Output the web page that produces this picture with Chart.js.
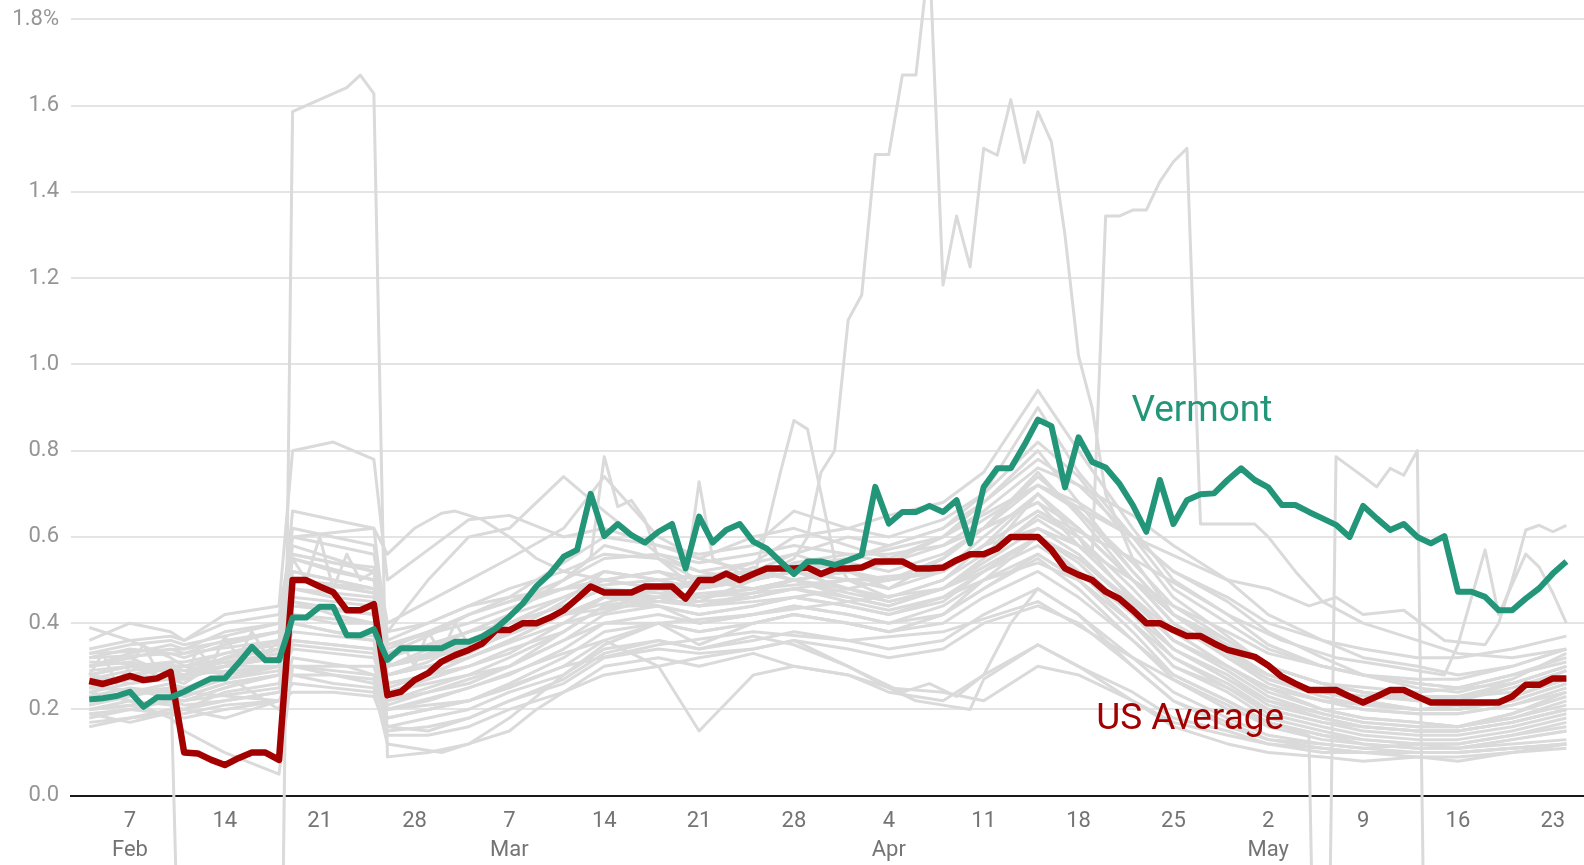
<!DOCTYPE html>
<html>
<head>
<meta charset="utf-8">
<title>Vermont vs US Average</title>
<script src="https://cdn.jsdelivr.net/npm/chart.js@4.4.1/dist/chart.umd.min.js"></script>
<style>
  html, body { margin: 0; padding: 0; background: #fff; }
  #wrap { position: relative; width: 1584px; height: 865px; }
</style>
</head>
<body>
<div id="wrap"><canvas id="chart"></canvas></div>
<script>
// ── day index 0 = 4 Feb, one value per day up to 24 May ──────────────────────
const vermont = [
  0.223, 0.226, 0.231, 0.241, 0.206, 0.228, 0.228, 0.241, 0.257, 0.272,
  0.272, 0.307, 0.345, 0.314, 0.314, 0.413, 0.413, 0.438, 0.438, 0.372,
  0.372, 0.386, 0.315, 0.342, 0.342, 0.342, 0.342, 0.357, 0.357, 0.369,
  0.388, 0.415, 0.446, 0.486, 0.515, 0.554, 0.570, 0.700, 0.602, 0.630,
  0.604, 0.587, 0.612, 0.630, 0.527, 0.647, 0.587, 0.616, 0.630, 0.589,
  0.573, 0.543, 0.514, 0.543, 0.543, 0.535, 0.546, 0.558, 0.716, 0.631,
  0.658, 0.658, 0.672, 0.658, 0.685, 0.585, 0.716, 0.759, 0.759, 0.813,
  0.872, 0.857, 0.715, 0.831, 0.774, 0.761, 0.724, 0.674, 0.612, 0.732,
  0.630, 0.685, 0.699, 0.701, 0.732, 0.759, 0.732, 0.715, 0.674, 0.674,
  0.658, 0.643, 0.628, 0.600, 0.672, 0.643, 0.616, 0.630, 0.600, 0.585,
  0.602, 0.473, 0.473, 0.461, 0.430, 0.430, 0.457, 0.481, 0.515, 0.543
];

const usAverage = [
  0.266, 0.259, 0.268, 0.278, 0.268, 0.272, 0.287, 0.100, 0.098, 0.083,
  0.071, 0.087, 0.100, 0.100, 0.083, 0.500, 0.500, 0.485, 0.472, 0.430,
  0.430, 0.444, 0.233, 0.241, 0.268, 0.284, 0.311, 0.326, 0.338, 0.353,
  0.384, 0.384, 0.400, 0.400, 0.413, 0.430, 0.457, 0.485, 0.471, 0.471,
  0.471, 0.485, 0.485, 0.485, 0.457, 0.500, 0.500, 0.515, 0.500, 0.514,
  0.527, 0.527, 0.527, 0.529, 0.514, 0.527, 0.527, 0.529, 0.543, 0.543,
  0.543, 0.527, 0.527, 0.529, 0.546, 0.560, 0.560, 0.573, 0.600, 0.600,
  0.600, 0.570, 0.527, 0.512, 0.500, 0.473, 0.457, 0.430, 0.400, 0.400,
  0.384, 0.370, 0.370, 0.353, 0.338, 0.330, 0.322, 0.302, 0.276, 0.260,
  0.245, 0.245, 0.245, 0.230, 0.216, 0.230, 0.245, 0.245, 0.230, 0.216,
  0.216, 0.216, 0.216, 0.216, 0.216, 0.230, 0.257, 0.257, 0.272, 0.272
];

// x axis ticks (day index) and their labels
const tickDays = [3, 10, 17, 24, 31, 38, 45, 52, 59, 66, 73, 80, 87, 94, 101, 108];
const tickLabels = [
  ['7', 'Feb'], '14', '21', '28', ['7', 'Mar'], '14', '21', '28',
  ['4', 'Apr'], '11', '18', '25', ['2', 'May'], '9', '16', '23'
];
const yTicks = [0, 0.2, 0.4, 0.6, 0.8, 1.0, 1.2, 1.4, 1.6, 1.8];

// other states, read at these days
const stateDays = [0, 3, 6, 7, 10, 14, 15, 18, 21, 22, 25, 28, 31, 35, 38, 42, 45, 49,
                   52, 56, 59, 63, 66, 70, 73, 77, 80, 84, 87, 91, 94, 98, 101, 105, 109];
const otherStates = [
  [0.36,0.40,0.38,0.36,0.42,0.44,0.80,0.82,0.78,0.50,0.57,0.64,0.65,0.60,0.62,0.58,0.55,0.60,0.62,0.58,0.55,0.60,0.68,0.80,0.68,0.52,0.42,0.36,0.30,0.26,0.24,0.22,0.22,0.26,0.30],
  [0.30,0.33,0.35,0.34,0.38,0.40,0.62,0.60,0.58,0.40,0.45,0.50,0.55,0.62,0.74,0.60,0.55,0.52,0.56,0.60,0.58,0.62,0.70,0.90,0.75,0.60,0.48,0.40,0.34,0.30,0.28,0.26,0.25,0.28,0.32],
  [0.25,0.28,0.30,0.29,0.30,0.33,0.55,0.52,0.50,0.30,0.34,0.38,0.42,0.50,0.58,0.55,0.50,0.54,0.60,0.62,0.65,0.68,0.75,0.94,0.80,0.62,0.50,0.42,0.35,0.30,0.28,0.25,0.24,0.27,0.33],
  [0.39,0.36,0.32,0.30,0.28,0.30,0.45,0.42,0.40,0.28,0.30,0.33,0.38,0.45,0.52,0.50,0.48,0.50,0.52,0.55,0.58,0.62,0.68,0.78,0.72,0.60,0.52,0.45,0.38,0.32,0.28,0.26,0.25,0.28,0.31],
  [0.28,0.30,0.27,0.26,0.32,0.36,0.58,0.55,0.52,0.34,0.38,0.42,0.45,0.48,0.50,0.52,0.50,0.48,0.50,0.46,0.44,0.48,0.55,0.70,0.62,0.50,0.40,0.32,0.26,0.22,0.20,0.19,0.19,0.21,0.24],
  [0.22,0.24,0.26,0.25,0.28,0.30,0.48,0.46,0.45,0.26,0.28,0.32,0.36,0.42,0.46,0.48,0.45,0.46,0.48,0.50,0.48,0.52,0.58,0.66,0.60,0.48,0.38,0.30,0.24,0.20,0.18,0.17,0.16,0.18,0.22],
  [0.20,0.22,0.21,0.20,0.24,0.26,0.40,0.38,0.36,0.22,0.24,0.27,0.30,0.36,0.42,0.44,0.42,0.44,0.46,0.44,0.42,0.45,0.52,0.60,0.55,0.44,0.34,0.27,0.22,0.18,0.16,0.15,0.15,0.17,0.20],
  [0.32,0.34,0.33,0.32,0.35,0.38,0.52,0.50,0.48,0.32,0.35,0.38,0.40,0.44,0.48,0.46,0.44,0.47,0.50,0.52,0.50,0.55,0.62,0.72,0.66,0.52,0.42,0.34,0.28,0.24,0.22,0.20,0.20,0.23,0.27],
  [0.18,0.20,0.22,0.22,0.25,0.28,0.36,0.35,0.34,0.20,0.22,0.25,0.28,0.34,0.40,0.42,0.40,0.42,0.44,0.42,0.40,0.44,0.50,0.56,0.50,0.40,0.30,0.24,0.18,0.15,0.13,0.12,0.12,0.14,0.16],
  [0.26,0.27,0.28,0.28,0.30,0.32,0.44,0.43,0.42,0.30,0.32,0.35,0.38,0.42,0.46,0.45,0.44,0.45,0.46,0.48,0.46,0.50,0.56,0.64,0.58,0.46,0.36,0.29,0.23,0.19,0.17,0.16,0.16,0.19,0.24],
  [0.24,0.22,0.18,0.15,0.10,0.05,0.30,0.28,0.26,0.18,0.20,0.22,0.26,0.32,0.38,0.40,0.38,0.40,0.42,0.40,0.38,0.42,0.48,0.55,0.48,0.36,0.28,0.22,0.17,0.14,0.12,0.11,0.11,0.13,0.15],
  [0.30,0.31,0.29,0.28,0.32,0.34,0.66,0.64,0.62,0.36,0.40,0.44,0.46,0.48,0.52,0.50,0.48,0.50,0.52,0.54,0.52,0.56,0.62,0.74,0.66,0.54,0.44,0.36,0.30,0.26,0.24,0.22,0.22,0.25,0.29],
  [0.23,0.25,0.24,0.23,0.26,0.28,0.34,0.33,0.32,0.24,0.26,0.28,0.30,0.36,0.40,0.40,0.38,0.40,0.42,0.40,0.38,0.40,0.46,0.52,0.46,0.36,0.27,0.21,0.16,0.13,0.12,0.11,0.11,0.12,0.13],
  [0.34,0.36,0.37,0.36,0.40,0.42,0.60,0.58,0.56,0.38,0.40,0.44,0.48,0.52,0.56,0.55,0.52,0.54,0.56,0.52,0.50,0.52,0.58,0.62,0.58,0.50,0.44,0.38,0.33,0.30,0.28,0.27,0.27,0.30,0.34],
  [0.20,0.21,0.22,0.21,0.22,0.24,0.30,0.29,0.28,0.18,0.20,0.22,0.25,0.30,0.36,0.30,0.15,0.28,0.30,0.28,0.24,0.22,0.28,0.35,0.30,0.24,0.18,0.15,0.12,0.10,0.10,0.10,0.10,0.11,0.12],
  [0.27,0.29,0.30,0.30,0.33,0.36,0.50,0.49,0.47,0.28,0.31,0.36,0.40,0.46,0.50,0.48,0.46,0.48,0.50,0.47,0.45,0.48,0.54,0.62,0.56,0.44,0.34,0.27,0.21,0.18,0.16,0.15,0.15,0.17,0.20],
  [0.17,0.18,0.20,0.20,0.22,0.24,0.28,0.28,0.27,0.16,0.18,0.20,0.24,0.28,0.34,0.36,0.34,0.36,0.38,0.36,0.34,0.36,0.42,0.48,0.42,0.32,0.24,0.18,0.14,0.12,0.11,0.10,0.10,0.11,0.12],
  [0.30,0.32,0.34,0.33,0.36,0.38,0.56,0.54,0.52,0.33,0.37,0.42,0.46,0.54,0.60,0.58,0.56,0.58,0.66,0.62,0.60,0.64,0.70,0.82,0.74,0.58,0.46,0.37,0.30,0.26,0.24,0.23,0.23,0.26,0.30],
  [0.21,0.23,0.25,0.24,0.27,0.29,0.38,0.37,0.36,0.21,0.24,0.26,0.30,0.38,0.44,0.46,0.44,0.46,0.48,0.45,0.43,0.46,0.52,0.60,0.54,0.42,0.32,0.25,0.19,0.16,0.14,0.13,0.13,0.15,0.18],
  [0.33,0.35,0.36,0.35,0.37,0.40,0.56,0.54,0.53,0.35,0.38,0.42,0.45,0.50,0.55,0.56,0.54,0.56,0.58,0.56,0.54,0.58,0.64,0.72,0.68,0.60,0.52,0.46,0.40,0.36,0.34,0.32,0.32,0.34,0.37],
  [0.19,0.20,0.19,0.18,0.20,0.22,0.26,0.25,0.24,0.14,0.14,0.16,0.20,0.24,0.28,0.30,0.32,0.34,0.36,0.30,0.25,0.24,0.22,0.30,0.28,0.22,0.17,0.14,0.12,0.11,0.10,0.10,0.10,0.11,0.12],
  [0.28,0.26,0.27,0.27,0.30,0.34,0.46,0.45,0.44,0.25,0.28,0.32,0.36,0.42,0.46,0.46,0.50,0.50,0.54,0.56,0.56,0.58,0.62,0.68,0.62,0.50,0.40,0.33,0.27,0.23,0.21,0.20,0.20,0.22,0.26],
  [0.24,0.26,0.28,0.27,0.30,0.30,0.42,0.40,0.40,0.26,0.28,0.30,0.33,0.40,0.46,0.44,0.42,0.44,0.46,0.44,0.42,0.46,0.50,0.54,0.50,0.40,0.32,0.26,0.20,0.17,0.15,0.14,0.14,0.16,0.19],
  [0.26,0.24,0.25,0.25,0.27,0.30,0.40,0.38,0.37,0.24,0.27,0.30,0.34,0.38,0.44,0.44,0.40,0.42,0.44,0.42,0.40,0.42,0.48,0.56,0.50,0.38,0.28,0.22,0.17,0.14,0.13,0.12,0.12,0.14,0.17],
  [0.22,0.24,0.24,0.23,0.26,0.28,0.36,0.35,0.34,0.22,0.25,0.28,0.32,0.38,0.44,0.46,0.46,0.48,0.50,0.52,0.54,0.60,0.66,0.76,0.72,0.65,0.58,0.50,0.42,0.36,0.32,0.30,0.28,0.30,0.34],
  [0.29,0.30,0.31,0.31,0.33,0.35,0.48,0.47,0.46,0.30,0.33,0.36,0.40,0.44,0.48,0.47,0.46,0.47,0.48,0.46,0.44,0.48,0.53,0.60,0.55,0.45,0.36,0.30,0.25,0.22,0.20,0.19,0.19,0.21,0.25],
  [0.16,0.18,0.19,0.19,0.21,0.22,0.24,0.24,0.23,0.15,0.16,0.18,0.22,0.26,0.32,0.34,0.33,0.34,0.36,0.34,0.32,0.34,0.40,0.44,0.40,0.30,0.22,0.17,0.13,0.11,0.10,0.09,0.09,0.10,0.11],
  [0.25,0.27,0.28,0.28,0.30,0.32,0.52,0.50,0.48,0.38,0.50,0.60,0.62,0.74,0.66,0.56,0.52,0.50,0.52,0.48,0.45,0.48,0.52,0.58,0.52,0.42,0.34,0.28,0.22,0.19,0.17,0.16,0.16,0.18,0.21]
];

// states with irregular reporting, read as [day, value]
const spikeFeb = [[0,0.30],[3,0.32],[6,0.28],[7,-0.90],[14,-1.00],[15,1.586],[19,1.642],[20,1.671],[21,1.628],[22,0.09],[25,0.10],[28,0.12],[31,0.18],[35,0.28],[38,0.35],[42,0.40],[45,0.35],[49,0.40],[52,0.42],[56,0.40],[59,0.38],[63,0.42],[66,0.50],[70,0.60],[73,0.52],[77,0.40],[80,0.30],[84,0.25],[87,0.20],[91,0.17],[94,0.16],[98,0.15],[101,0.15],[105,0.17],[109,0.20]];
const spikeApr = [[0,0.28],[3,0.30],[7,0.29],[10,0.31],[14,0.33],[15,0.50],[21,0.48],[22,0.30],[28,0.34],[35,0.42],[42,0.48],[49,0.50],[52,0.55],[53,0.60],[54,0.75],[55,0.80],[56,1.103],[57,1.161],[58,1.487],[59,1.487],[60,1.671],[61,1.671],[62,1.95],[63,1.184],[64,1.344],[65,1.226],[66,1.501],[67,1.485],[68,1.614],[69,1.468],[70,1.586],[71,1.516],[72,1.30],[73,1.02],[74,0.90],[75,0.70],[77,0.55],[80,0.42],[84,0.33],[87,0.28],[91,0.24],[94,0.22],[98,0.20],[101,0.20],[105,0.23],[109,0.27]];
const spikeLateApr = [[0,0.20],[7,0.22],[14,0.25],[15,0.35],[21,0.33],[22,0.20],[28,0.25],[35,0.33],[42,0.40],[49,0.42],[56,0.45],[63,0.48],[66,0.55],[70,0.65],[73,0.60],[74,0.55],[75,1.344],[76,1.344],[77,1.358],[78,1.358],[79,1.424],[80,1.47],[81,1.501],[82,0.63],[83,0.63],[84,0.63],[85,0.63],[86,0.63],[87,0.60],[89,0.52],[91,0.45],[94,0.40],[98,0.36],[101,0.33],[105,0.32],[109,0.34]];
const dropMay = [[0,0.25],[7,0.24],[14,0.22],[15,0.30],[21,0.30],[22,0.20],[28,0.22],[35,0.30],[42,0.35],[49,0.38],[56,0.36],[63,0.38],[70,0.45],[77,0.32],[84,0.20],[88,0.16],[90,0.14],[91,-1.5],[92,0.786],[93,0.763],[94,0.74],[95,0.716],[96,0.759],[97,0.743],[98,0.80],[99,-1.5],[100,-1.5]];
const highEnd = [[0,0.32],[7,0.33],[14,0.36],[15,0.55],[21,0.50],[22,0.35],[28,0.40],[35,0.48],[42,0.50],[49,0.52],[56,0.55],[63,0.60],[70,0.72],[77,0.60],[84,0.50],[87,0.48],[90,0.44],[92,0.46],[94,0.42],[97,0.43],[100,0.36],[103,0.35],[104,0.40],[105,0.50],[106,0.616],[107,0.627],[108,0.612],[109,0.627]];
const jumpyEnd = [[0,0.27],[7,0.28],[14,0.30],[15,0.45],[21,0.42],[22,0.28],[28,0.32],[35,0.40],[42,0.46],[49,0.48],[56,0.50],[63,0.52],[70,0.66],[77,0.55],[84,0.42],[88,0.36],[92,0.32],[96,0.30],[100,0.28],[101,0.35],[103,0.57],[104,0.42],[106,0.56],[107,0.53],[108,0.47],[109,0.40]];
const peakMar28 = [[0,0.26],[7,0.30],[14,0.32],[15,0.42],[21,0.40],[22,0.30],[28,0.35],[35,0.42],[42,0.45],[45,0.45],[49,0.50],[50,0.62],[51,0.75],[52,0.87],[53,0.85],[54,0.70],[55,0.55],[56,0.50],[59,0.46],[63,0.50],[66,0.58],[70,0.70],[73,0.60],[77,0.45],[80,0.36],[84,0.30],[87,0.25],[91,0.22],[98,0.20],[105,0.22],[109,0.26]];
const peakMar14 = [[0,0.31],[7,0.30],[14,0.34],[15,0.50],[21,0.47],[22,0.32],[28,0.38],[31,0.42],[35,0.50],[37,0.55],[38,0.786],[39,0.67],[40,0.685],[41,0.64],[42,0.55],[44,0.50],[45,0.728],[46,0.55],[49,0.50],[52,0.52],[56,0.50],[59,0.50],[63,0.55],[66,0.62],[70,0.75],[73,0.65],[77,0.50],[80,0.40],[84,0.32],[87,0.27],[91,0.24],[98,0.22],[105,0.24],[109,0.29]];
const humpMar = [[0,0.33],[7,0.34],[14,0.38],[15,0.60],[21,0.62],[22,0.56],[24,0.62],[26,0.655],[27,0.66],[29,0.64],[31,0.60],[33,0.55],[35,0.52],[38,0.50],[42,0.48],[45,0.50],[49,0.52],[52,0.50],[56,0.48],[59,0.50],[63,0.52],[66,0.60],[70,0.70],[73,0.62],[77,0.50],[80,0.42],[84,0.35],[87,0.30],[91,0.26],[98,0.24],[105,0.26],[109,0.30]];
const lowMar = [[0,0.19],[3,0.17],[7,0.20],[10,0.18],[14,0.22],[15,0.28],[18,0.26],[21,0.25],[22,0.12],[24,0.11],[26,0.10],[28,0.12],[31,0.15],[33,0.20],[35,0.24],[38,0.30],[42,0.32],[45,0.30],[49,0.33],[52,0.30],[56,0.28],[59,0.25],[61,0.22],[63,0.21],[65,0.20],[66,0.27],[70,0.35],[73,0.30],[77,0.22],[80,0.16],[84,0.12],[87,0.10],[91,0.09],[94,0.08],[98,0.09],[101,0.08],[105,0.10],[109,0.12]];
const lowApr = [[0,0.21],[4,0.24],[7,0.22],[11,0.26],[14,0.20],[15,0.32],[19,0.30],[21,0.28],[22,0.16],[25,0.15],[28,0.18],[31,0.22],[35,0.27],[38,0.33],[42,0.36],[45,0.34],[49,0.37],[52,0.35],[56,0.30],[58,0.27],[60,0.24],[62,0.26],[64,0.23],[66,0.28],[68,0.40],[70,0.48],[73,0.42],[77,0.30],[80,0.22],[84,0.16],[87,0.13],[91,0.12],[94,0.11],[98,0.12],[101,0.11],[105,0.13],[109,0.15]];
const jaggedFeb = [[0,0.28],[1,0.33],[2,0.26],[3,0.30],[4,0.35],[5,0.29],[6,0.31],[7,0.27],[8,0.34],[9,0.30],[10,0.37],[11,0.32],[12,0.38],[13,0.33],[14,0.36],[15,0.55],[16,0.50],[17,0.60],[18,0.48],[19,0.56],[20,0.50],[21,0.52],[22,0.30],[23,0.36],[24,0.30],[25,0.38],[26,0.33],[27,0.40],[28,0.35],[31,0.42],[35,0.46],[38,0.50],[42,0.52],[45,0.48],[49,0.53],[52,0.50],[56,0.52],[59,0.48],[63,0.55],[66,0.62],[70,0.68],[73,0.58],[77,0.46],[80,0.38],[84,0.30],[87,0.25],[91,0.20],[94,0.18],[98,0.17],[101,0.16],[105,0.19],[109,0.23]];
const irregularStates = [spikeFeb, spikeApr, spikeLateApr, dropMay, highEnd, jumpyEnd, peakMar28, peakMar14, humpMar, lowMar, lowApr, jaggedFeb];

// direct labels
const seriesNames = ['Vermont', 'US Average'];
const labelAnchors = [{ day: 76.9, value: 0.89 }, { day: 74.3, value: 0.175 }];

// ── styling ──────────────────────────────────────────────────────────────────
const GREEN = '#23967a';
const RED = '#a30000';
const GREY = '#dadada';

Chart.defaults.font.family = 'Roboto, "Noto Sans", sans-serif';

function greyLine(points) {
  return {
    data: points,
    borderColor: GREY,
    borderWidth: 3,
    pointRadius: 0,
    tension: 0,
    borderJoinStyle: 'round',
    order: 5
  };
}

const datasets = [
  {
    label: seriesNames[0],
    data: vermont.map((v, i) => ({ x: i, y: v })),
    borderColor: GREEN,
    borderWidth: 6,
    pointRadius: 0,
    borderJoinStyle: 'round',
    order: 0
  },
  {
    label: seriesNames[1],
    data: usAverage.map((v, i) => ({ x: i, y: v })),
    borderColor: RED,
    borderWidth: 6.5,
    pointRadius: 0,
    borderJoinStyle: 'round',
    order: 1
  }
];
otherStates.forEach(vals => datasets.push(greyLine(vals.map((v, i) => ({ x: stateDays[i], y: v })))));
irregularStates.forEach(pairs => datasets.push(greyLine(pairs.map(p => ({ x: p[0], y: p[1] })))));

// series names written next to the lines
const seriesLabels = {
  id: 'seriesLabels',
  afterDatasetsDraw(chart) {
    const { ctx, scales: { x, y } } = chart;
    const colors = [GREEN, RED];
    ctx.save();
    ctx.font = '37px Roboto, "Noto Sans", sans-serif';
    ctx.textAlign = 'left';
    ctx.textBaseline = 'middle';
    seriesNames.forEach((name, i) => {
      ctx.fillStyle = colors[i];
      ctx.fillText(name, x.getPixelForValue(labelAnchors[i].day), y.getPixelForValue(labelAnchors[i].value));
    });
    ctx.restore();
  }
};

new Chart(document.getElementById('chart'), {
  type: 'line',
  data: { datasets },
  plugins: [seriesLabels],
  options: {
    responsive: true,
    maintainAspectRatio: false,
    devicePixelRatio: 1,
    animation: false,
    events: [],
    layout: { padding: 0, autoPadding: false },
    plugins: { legend: { display: false }, tooltip: { enabled: false } },
    scales: {
      x: {
        type: 'linear',
        position: { y: 0 },
        min: -1.35,
        max: 110.3,
        afterFit(scale) { scale.height = 0; scale.paddingLeft = 0; scale.paddingRight = 0; },
        afterBuildTicks(scale) { scale.ticks = tickDays.map(v => ({ value: v })); },
        grid: { display: false, drawTicks: false },
        border: { display: true, color: '#1a1a1a', width: 2 },
        ticks: {
          autoSkip: false,
          maxRotation: 0,
          padding: 12,
          color: '#747474',
          font: { size: 22, lineHeight: 1.29 },
          callback: (value, index) => tickLabels[index]
        }
      },
      y: {
        position: 'left',
        min: -0.1607,
        max: 1.845,
        afterFit(scale) { scale.width = 71; scale.paddingTop = 0; scale.paddingBottom = 0; },
        afterBuildTicks(scale) { scale.ticks = yTicks.map(v => ({ value: v })); },
        grid: { color: '#e4e4e4', lineWidth: 2, drawTicks: false },
        border: { display: false },
        ticks: {
          padding: 12,
          color: '#959595',
          font: { size: 22 },
          callback: value => value === 1.8 ? '1.8%' : value.toFixed(1)
        }
      }
    }
  }
});
</script>
</body>
</html>
